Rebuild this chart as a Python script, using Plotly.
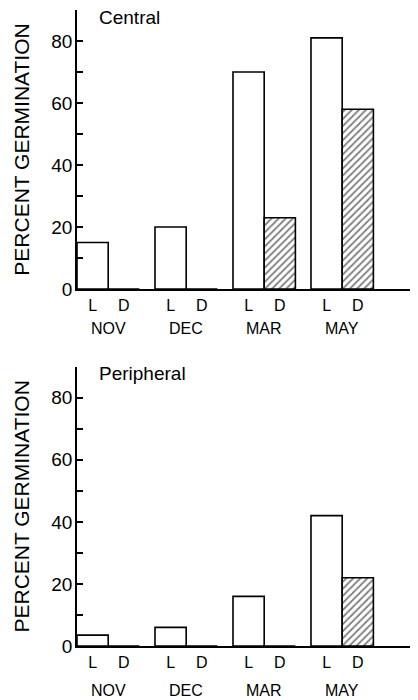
import plotly.graph_objects as go

MONTHS = ["NOV", "DEC", "MAR", "MAY"]
CONDITIONS = ["L", "D"]
PANELS = ["Central", "Peripheral"]
CENTRAL_L = [15, 20, 70, 81]
CENTRAL_D = [0, 0, 23, 58]
PERIPH_L = [3.5, 6, 16, 42]
PERIPH_D = [0, 0, 0, 22]
Y_TICKS = [0, 20, 40, 60, 80]
Y_TITLE = "PERCENT GERMINATION"

FONT = "Liberation Sans, Arial, Helvetica, sans-serif"
OFF = 0.2
W = 0.4
idx = list(range(len(MONTHS)))
xL = [i - OFF for i in idx]
xD = [i + OFF for i in idx]

fig = go.Figure()
panels = [(CENTRAL_L, CENTRAL_D, "x", "y"), (PERIPH_L, PERIPH_D, "x2", "y2")]
for lv, dv, xa, ya in panels:
    fig.add_bar(x=xL, y=lv, width=W, xaxis=xa, yaxis=ya, showlegend=False,
                marker=dict(color="white", line=dict(color="black", width=1.6)))
    fig.add_bar(x=xD, y=dv, width=W, xaxis=xa, yaxis=ya, showlegend=False,
                marker=dict(color="white",
                            pattern=dict(shape="/", fgcolor="black", bgcolor="white",
                                         size=5, solidity=0.35),
                            line=dict(color="black", width=1.6)))

tickvals = []
ticktext = []
for i in idx:
    tickvals += [xL[i], xD[i]]
    ticktext += CONDITIONS

xcommon = dict(range=[-0.4, 3.972], showline=True, linecolor="black", linewidth=1.5,
               ticks="", tickvals=tickvals, ticktext=ticktext,
               tickfont=dict(size=16, color="black", family=FONT),
               showgrid=False, zeroline=False, fixedrange=True, ticklabelstandoff=1)
ycommon = dict(range=[0, 90], showline=True, linecolor="black", linewidth=1.5,
               ticks="inside", ticklen=6, tickwidth=1.5, tickcolor="black",
               tickvals=Y_TICKS, tickfont=dict(size=19, color="black", family=FONT),
               minor=dict(dtick=10, tick0=0, ticks="inside", ticklen=6, tickwidth=1.5,
                          tickcolor="black"),
               showgrid=False, zeroline=False, fixedrange=True, ticklabelstandoff=-1,
               title=dict(text=Y_TITLE, font=dict(size=21, color="black", family=FONT),
                          standoff=16))

# page body has an 8px margin; size the figure so the plot lands where the reference has it
fig.update_layout(
    width=410, height=692,
    margin=dict(l=69, r=0, t=2, b=54),
    paper_bgcolor="white", plot_bgcolor="white",
    barmode="overlay",
    font=dict(family=FONT, color="black"),
    xaxis=dict(domain=[0, 1], anchor="y", **xcommon),
    yaxis=dict(domain=[0.5613, 1], anchor="x", **ycommon),
    xaxis2=dict(domain=[0, 1], anchor="y2", **xcommon),
    yaxis2=dict(domain=[0, 0.4392], anchor="x2", **ycommon),
)

ann = []
for k, (xa, ya, shift) in enumerate([("x", "y", -39), ("x2", "y2", -44)]):
    for i, m in enumerate(MONTHS):
        ann.append(dict(x=i, y=0, xref=xa, yref=ya + " domain", text=m, showarrow=False,
                        yshift=shift, yanchor="middle", xanchor="center",
                        font=dict(size=16, color="black", family=FONT)))
    ann.append(dict(x=0.058, y=87.7 if k == 0 else 87.9, xref=xa + " domain", yref=ya,
                    text=PANELS[k], showarrow=False, xanchor="left", yanchor="middle",
                    font=dict(size=19, color="black", family=FONT)))
fig.update_layout(annotations=ann)

fig.write_html("out.html")
